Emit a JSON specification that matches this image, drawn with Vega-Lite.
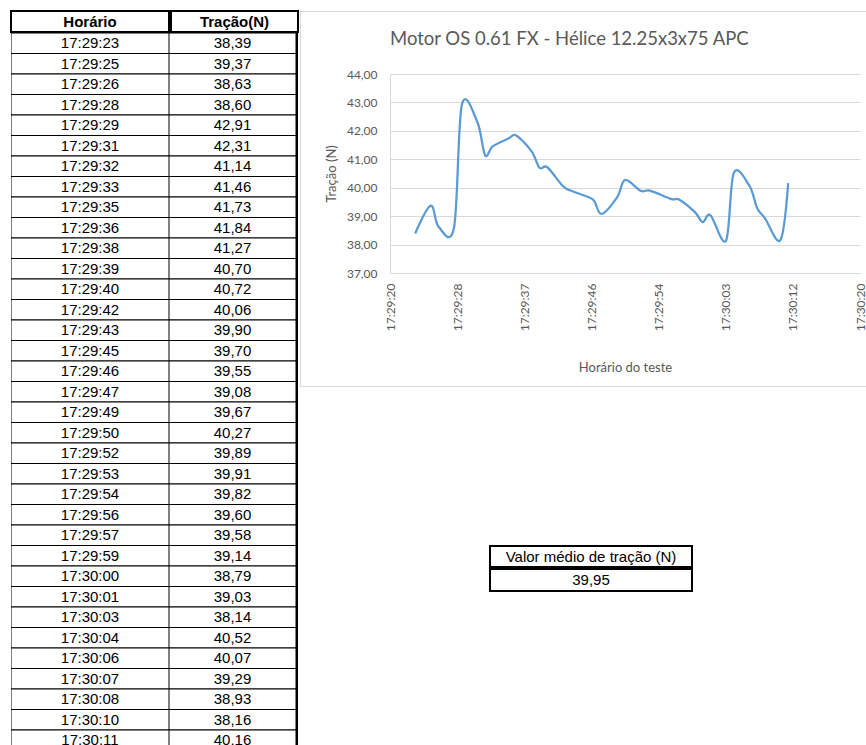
{
  "$schema": "https://vega.github.io/schema/vega-lite/v6.json",
  "background": "#ffffff",
  "padding": {"left": 10, "top": 10, "right": 0, "bottom": 0},
  "config": {
    "locale": {"number": {"decimal": ",", "thousands": ".", "grouping": [3], "currency": ["R$", ""]}},
    "view": {"stroke": null}
  },
  "datasets": {
    "dados": [
      {"Horario": "2000-01-01T17:29:23", "Tracao": 38.39},
      {"Horario": "2000-01-01T17:29:25", "Tracao": 39.37},
      {"Horario": "2000-01-01T17:29:26", "Tracao": 38.63},
      {"Horario": "2000-01-01T17:29:28", "Tracao": 38.60},
      {"Horario": "2000-01-01T17:29:29", "Tracao": 42.91},
      {"Horario": "2000-01-01T17:29:31", "Tracao": 42.31},
      {"Horario": "2000-01-01T17:29:32", "Tracao": 41.14},
      {"Horario": "2000-01-01T17:29:33", "Tracao": 41.46},
      {"Horario": "2000-01-01T17:29:35", "Tracao": 41.73},
      {"Horario": "2000-01-01T17:29:36", "Tracao": 41.84},
      {"Horario": "2000-01-01T17:29:38", "Tracao": 41.27},
      {"Horario": "2000-01-01T17:29:39", "Tracao": 40.70},
      {"Horario": "2000-01-01T17:29:40", "Tracao": 40.72},
      {"Horario": "2000-01-01T17:29:42", "Tracao": 40.06},
      {"Horario": "2000-01-01T17:29:43", "Tracao": 39.90},
      {"Horario": "2000-01-01T17:29:45", "Tracao": 39.70},
      {"Horario": "2000-01-01T17:29:46", "Tracao": 39.55},
      {"Horario": "2000-01-01T17:29:47", "Tracao": 39.08},
      {"Horario": "2000-01-01T17:29:49", "Tracao": 39.67},
      {"Horario": "2000-01-01T17:29:50", "Tracao": 40.27},
      {"Horario": "2000-01-01T17:29:52", "Tracao": 39.89},
      {"Horario": "2000-01-01T17:29:53", "Tracao": 39.91},
      {"Horario": "2000-01-01T17:29:54", "Tracao": 39.82},
      {"Horario": "2000-01-01T17:29:56", "Tracao": 39.60},
      {"Horario": "2000-01-01T17:29:57", "Tracao": 39.58},
      {"Horario": "2000-01-01T17:29:59", "Tracao": 39.14},
      {"Horario": "2000-01-01T17:30:00", "Tracao": 38.79},
      {"Horario": "2000-01-01T17:30:01", "Tracao": 39.03},
      {"Horario": "2000-01-01T17:30:03", "Tracao": 38.14},
      {"Horario": "2000-01-01T17:30:04", "Tracao": 40.52},
      {"Horario": "2000-01-01T17:30:06", "Tracao": 40.07},
      {"Horario": "2000-01-01T17:30:07", "Tracao": 39.29},
      {"Horario": "2000-01-01T17:30:08", "Tracao": 38.93},
      {"Horario": "2000-01-01T17:30:10", "Tracao": 38.16},
      {"Horario": "2000-01-01T17:30:11", "Tracao": 40.16}
    ]
  },
  "spacing": 1,
  "hconcat": [
    {
      "spacing": 0,
      "vconcat": [
        {
          "spacing": 0,
          "hconcat": [
            {
              "width": 158, "height": 21,
              "data": {"values": [{"titulo": "Horário"}]},
              "mark": {"type": "text", "font": "Liberation Sans", "fontSize": 15, "fontWeight": "bold", "color": "#000000"},
              "encoding": {"text": {"field": "titulo"}},
              "view": {"stroke": "#000000", "strokeWidth": 2}
            },
            {
              "width": 127, "height": 21,
              "data": {"values": [{"titulo": "Tração(N)"}]},
              "mark": {"type": "text", "font": "Liberation Sans", "fontSize": 15, "fontWeight": "bold", "color": "#000000"},
              "encoding": {"text": {"field": "titulo"}},
              "view": {"stroke": "#000000", "strokeWidth": 2}
            }
          ]
        },
        {
          "spacing": 0,
          "hconcat": [
            {
              "width": 158, "height": 714,
              "data": {"name": "dados"},
              "encoding": {
                "y": {"field": "Horario", "type": "ordinal", "sort": null, "axis": null,
                      "scale": {"range": [0, 717.5], "paddingInner": 0, "paddingOuter": 0}}
              },
              "layer": [
                {"mark": {"type": "rect", "fill": "#ffffff", "stroke": "#000000", "strokeWidth": 1, "clip": true}},
                {"mark": {"type": "text", "font": "Liberation Sans", "fontSize": 15, "color": "#000000", "clip": true},
                 "encoding": {"text": {"field": "Horario", "type": "temporal", "format": "%H:%M:%S"}}}
              ]
            },
            {
              "width": 127, "height": 714,
              "data": {"name": "dados"},
              "encoding": {
                "y": {"field": "Horario", "type": "ordinal", "sort": null, "axis": null,
                      "scale": {"range": [0, 717.5], "paddingInner": 0, "paddingOuter": 0}}
              },
              "layer": [
                {"mark": {"type": "rect", "fill": "#ffffff", "stroke": "#000000", "strokeWidth": 1, "clip": true}},
                {"mark": {"type": "text", "font": "Liberation Sans", "fontSize": 15, "color": "#000000", "clip": true},
                 "encoding": {"text": {"field": "Tracao", "type": "quantitative", "format": ".2f"}}}
              ]
            },
            {
              "width": 2, "height": 714,
              "data": {"values": [{}]},
              "mark": {"type": "rect", "color": "#000000"}
            }
          ]
        }
      ]
    },
    {
      "spacing": 158,
      "vconcat": [
        {
          "spacing": 0,
          "vconcat": [
            {
              "width": 568, "height": 1,
              "data": {"values": [{}]},
              "mark": {"type": "rect", "color": "#d9d9d9"}
            },
            {
              "spacing": 24,
              "hconcat": [
                {
                  "width": 1, "height": 374,
                  "data": {"values": [{}]},
                  "mark": {"type": "rect", "color": "#d9d9d9"}
                },
                {
                  "spacing": 16,
                  "vconcat": [
                    {
                      "width": 1, "height": 1,
                      "data": {"values": [{}]},
                      "mark": {"type": "rect", "opacity": 0}
                    },
                    {
                      "width": 470, "height": 199,
                      "data": {"name": "dados"},
                      "title": {
                        "text": "Motor OS 0.61 FX - Hélice 12.25x3x75 APC",
                        "anchor": "start", "frame": "group", "font": "Lato", "fontSize": 18.5,
                        "fontWeight": "normal", "color": "#595959", "offset": 20
                      },
                      "mark": {"type": "line", "interpolate": "cardinal", "color": "#5b9bd5", "strokeWidth": 2.25},
                      "encoding": {
                        "x": {
                          "field": "Horario", "type": "temporal",
                          "scale": {"domain": [
                            {"year": 2000, "month": 1, "date": 1, "hours": 17, "minutes": 29, "seconds": 19, "milliseconds": 760},
                            {"year": 2000, "month": 1, "date": 1, "hours": 17, "minutes": 30, "seconds": 20, "milliseconds": 240}
                          ]},
                          "axis": {
                            "title": "Horário do teste",
                            "values": [
                              {"year": 2000, "month": 1, "date": 1, "hours": 17, "minutes": 29, "seconds": 19, "milliseconds": 760},
                              {"year": 2000, "month": 1, "date": 1, "hours": 17, "minutes": 29, "seconds": 28, "milliseconds": 400},
                              {"year": 2000, "month": 1, "date": 1, "hours": 17, "minutes": 29, "seconds": 37, "milliseconds": 40},
                              {"year": 2000, "month": 1, "date": 1, "hours": 17, "minutes": 29, "seconds": 45, "milliseconds": 680},
                              {"year": 2000, "month": 1, "date": 1, "hours": 17, "minutes": 29, "seconds": 54, "milliseconds": 320},
                              {"year": 2000, "month": 1, "date": 1, "hours": 17, "minutes": 30, "seconds": 2, "milliseconds": 960},
                              {"year": 2000, "month": 1, "date": 1, "hours": 17, "minutes": 30, "seconds": 11, "milliseconds": 600},
                              {"year": 2000, "month": 1, "date": 1, "hours": 17, "minutes": 30, "seconds": 20, "milliseconds": 240}
                            ],
                            "labelExpr": "timeFormat(time(datum.value) + 500, '%H:%M:%S')",
                            "labelAngle": 270, "grid": false, "ticks": false,
                            "domainColor": "#d9d9d9", "labelColor": "#595959", "labelFont": "Lato", "labelFontSize": 12,
                            "labelPadding": 10, "labelOverlap": false, "labelFlush": false,
                            "titleFont": "Lato", "titleFontSize": 13, "titleColor": "#595959", "titleFontWeight": "normal",
                            "titlePadding": 31
                          }
                        },
                        "y": {
                          "field": "Tracao", "type": "quantitative",
                          "scale": {"domain": [37, 44], "zero": false, "nice": false},
                          "axis": {
                            "title": "Tração (N)", "values": [37, 38, 39, 40, 41, 42, 43, 44], "format": ".2f",
                            "grid": true, "gridColor": "#d9d9d9", "ticks": false, "domainColor": "#d9d9d9",
                            "labelColor": "#595959", "labelFont": "Lato", "labelFontSize": 12, "labelPadding": 13,
                            "titleFont": "Lato", "titleFontSize": 13, "titleColor": "#595959", "titleFontWeight": "normal",
                            "titlePadding": 8
                          }
                        }
                      }
                    }
                  ]
                }
              ]
            },
            {
              "width": 568, "height": 1,
              "data": {"values": [{}]},
              "mark": {"type": "rect", "color": "#d9d9d9"}
            }
          ]
        },
        {
          "spacing": 188,
          "hconcat": [
            {
              "width": 1, "height": 1,
              "data": {"values": [{}]},
              "mark": {"type": "rect", "opacity": 0}
            },
            {
              "spacing": 0,
              "vconcat": [
                {
                  "width": 202, "height": 21,
                  "data": {"values": [{"rotulo": "Valor médio de tração (N)"}]},
                  "mark": {"type": "text", "font": "Liberation Sans", "fontSize": 15, "color": "#000000"},
                  "encoding": {"text": {"field": "rotulo"}},
                  "view": {"stroke": "#000000", "strokeWidth": 2}
                },
                {
                  "width": 202, "height": 22,
                  "data": {"name": "dados"},
                  "transform": [{"aggregate": [{"op": "mean", "field": "Tracao", "as": "media"}]}],
                  "mark": {"type": "text", "font": "Liberation Sans", "fontSize": 15, "color": "#000000"},
                  "encoding": {"text": {"field": "media", "type": "quantitative", "format": ".2f"}},
                  "view": {"stroke": "#000000", "strokeWidth": 2}
                }
              ]
            }
          ]
        }
      ]
    }
  ]
}
